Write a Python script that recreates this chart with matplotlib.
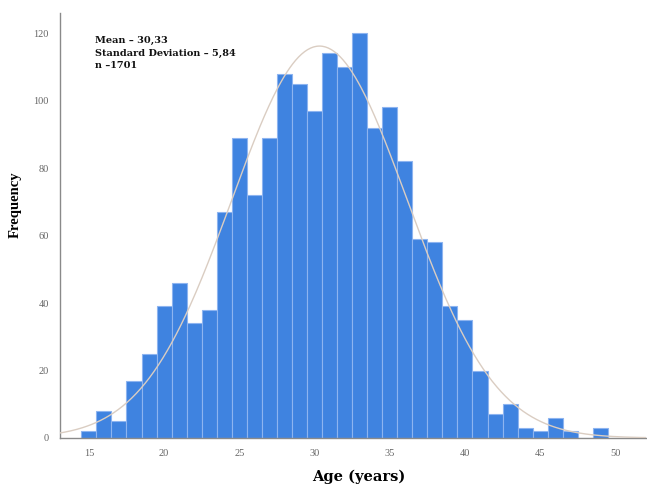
import matplotlib.pyplot as plt
import numpy as np

# histogram of age, one bin per year (centres 15..49)
ages = np.arange(15, 50)
counts = [2, 8, 5, 17, 25, 39, 46, 34, 38, 67, 89, 72, 89, 108, 105, 97,
          114, 110, 120, 92, 98, 82, 59, 58, 39, 35, 20, 7, 10, 3, 2, 6, 2, 0, 3]
mean_age = 30.33
sd_age = 5.84
n_total = 1701
x_ticks = [15, 20, 25, 30, 35, 40, 45, 50]
y_ticks = [0, 20, 40, 60, 80, 100, 120]

fig = plt.figure(figsize=(6.47, 4.93), dpi=100)
ax = fig.add_axes([0.0927, 0.1116, 0.905, 0.862])

ax.bar(ages, counts, width=1.0, color="#3f83e0", edgecolor="#8db4f0", linewidth=0.8, zorder=2)

# fitted normal curve
xs = np.linspace(13.0, 52.5, 400)
ys = n_total * 1.0 / (sd_age * np.sqrt(2 * np.pi)) * np.exp(-0.5 * ((xs - mean_age) / sd_age) ** 2)
ax.plot(xs, ys, color="#dacdc2", linewidth=1.0, zorder=3)

ax.set_xlim(13.08, 52.0)
ax.set_ylim(0, 126)
ax.set_xticks(x_ticks)
ax.set_yticks(y_ticks)
ax.tick_params(axis="both", length=0, labelsize=7.5, colors="#666666", pad=8)
for lab in ax.get_xticklabels() + ax.get_yticklabels():
    lab.set_family("Liberation Serif")

for side in ["top", "right"]:
    ax.spines[side].set_visible(False)
for side in ["left", "bottom"]:
    ax.spines[side].set_color("#8a8a8a")
    ax.spines[side].set_linewidth(1.0)

ax.set_xlabel("Age (years)", family="DejaVu Serif", fontweight="bold", fontsize=10.5)
ax.xaxis.set_label_coords(0.51, -0.075)
ax.set_ylabel("Frequency", family="Liberation Serif", fontweight="bold", fontsize=10.5)
ax.yaxis.set_label_coords(-0.066, 0.55)

ax.text(0.06, 0.945, "Mean \u2013 30,33\nStandard Deviation \u2013 5,84\nn \u20131701",
        transform=ax.transAxes, va="top", ha="left", family="DejaVu Serif",
        fontweight="bold", fontsize=7, linespacing=1.45, color="#111111")

fig.savefig("out.png", dpi=100)
